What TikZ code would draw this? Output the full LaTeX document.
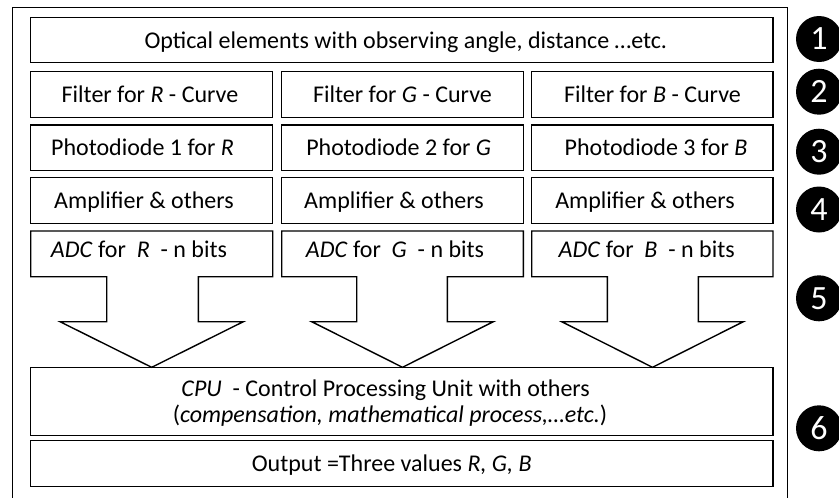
\documentclass[tikz,border=0pt]{standalone}
\usepackage{fontspec}
\setmainfont{Carlito}
\begin{document}
\begin{tikzpicture}[x=1pt,y=-1pt,
  box/.style={draw=black,line width=1.4pt,rectangle,inner sep=0pt},
  lbl/.style={font=\fontsize{24}{28}\selectfont,inner sep=0pt,anchor=base},
  num/.style={circle,fill=black,minimum size=46pt,inner sep=0pt,text=white,font=\fontsize{34}{34}\selectfont},
  shp/.style={draw=black,line width=1.4pt,line join=miter}]
\useasboundingbox (0,0) rectangle (839,498);
\clip (0,0) rectangle (839,498);
% outer frame (open at the bottom)
\draw[line width=1.5pt] (12.7,510) -- (12.7,7.5) -- (787.7,7.5) -- (787.7,510);
% top box
\node[box,minimum width=742.3pt,minimum height=45.4pt] (opt) at (401.85,40) {};
\node[lbl] (toptxt) at (405.8,48) {Optical elements with observing angle, distance …etc.};
% row 2
\node[box,minimum width=242pt,minimum height=45.6pt] (fR) at (151.7,94.5) {};
\node[box,minimum width=241.6pt,minimum height=45.6pt] (fG) at (402.5,94.5) {};
\node[box,minimum width=241.3pt,minimum height=45.6pt] (fB) at (652.35,94.5) {};
\node[lbl] (fRt) at (150,102) {Filter for \textit{R} - Curve};
\node[lbl] (fGt) at (402.5,102) {Filter for \textit{G} - Curve};
\node[lbl] (fBt) at (652.5,102) {Filter for \textit{B} - Curve};
% row 3
\node[box,minimum width=242pt,minimum height=45.7pt] (pR) at (151.7,147.85) {};
\node[box,minimum width=241.6pt,minimum height=45.7pt] (pG) at (402.5,147.85) {};
\node[box,minimum width=241.3pt,minimum height=45.7pt] (pB) at (652.35,147.85) {};
\node[lbl] (pRt) at (142.5,155.5) {Photodiode 1 for \textit{R}};
\node[lbl] (pGt) at (398.7,155.5) {Photodiode 2 for \textit{G}};
\node[lbl] (pBt) at (656,155.5) {Photodiode 3 for \textit{B}};
% row 4
\node[box,minimum width=242pt,minimum height=45.6pt] (aR) at (151.7,200.5) {};
\node[box,minimum width=241.6pt,minimum height=45.6pt] (aG) at (402.5,200.5) {};
\node[box,minimum width=241.3pt,minimum height=45.6pt] (aB) at (652.35,200.5) {};
\node[lbl] (aRt) at (144,208.3) {Amplifier \& others};
\node[lbl] (aGt) at (394,208.3) {Amplifier \& others};
\node[lbl] (aBt) at (645,208.3) {Amplifier \& others};
% row 5: ADC boxes merged with block arrows
\draw[shp] (30.7,231) -- (272.7,231) -- (272.7,276.7) -- (198.3,276.7) -- (198.3,321.7)
  -- (243.3,321.7) -- (151.7,367.3) -- (60,321.7) -- (106.7,321.7) -- (106.7,276.7)
  -- (30.7,276.7) -- cycle;
\draw[shp] (281.7,231) -- (523.3,231) -- (523.3,276.7) -- (447.3,276.7) -- (447.3,321.7)
  -- (493.3,321.7) -- (402.5,367.3) -- (311.7,321.7) -- (356.7,321.7) -- (356.7,276.7)
  -- (281.7,276.7) -- cycle;
\draw[shp] (531.7,231) -- (773,231) -- (773,276.7) -- (698.3,276.7) -- (698.3,321.7)
  -- (743.3,321.7) -- (652.5,367.3) -- (561.7,321.7) -- (607.3,321.7) -- (607.3,276.7)
  -- (531.7,276.7) -- cycle;
\node[lbl] (dRt) at (139,257.5) {\textit{ADC} for\ \ \textit{R}\ \ - n bits};
\node[lbl] (dGt) at (395,257.5) {\textit{ADC} for\ \ \textit{G}\ \ - n bits};
\node[lbl] (dBt) at (646.7,257.5) {\textit{ADC} for\ \ \textit{B}\ \ - n bits};
% CPU box
\node[box,minimum width=742.3pt,minimum height=68.4pt] (cpu) at (401.85,401.5) {};
\node[lbl] (cpu1) at (385.7,396) {\textit{CPU}\ \ - Control Processing Unit with others};
\node[lbl] (cpu2) at (390,422.5) {(\textit{compensation, mathematical process,…etc.})};
% output box
\node[box,minimum width=742.3pt,minimum height=46pt] (out) at (401.85,463.7) {};
\node[lbl] (outt) at (391.7,471.5) {Output =Three values \textit{R, G, B}};
% numbered markers
\node[num] (n1) at (819,39) {1};
\node[num] (n2) at (819,91.7) {2};
\node[num] (n3) at (819,151.7) {3};
\node[num] (n4) at (819,209.5) {4};
\node[num] (n5) at (819,298.3) {5};
\node[num] (n6) at (819,428.3) {6};
\end{tikzpicture}
\end{document}
